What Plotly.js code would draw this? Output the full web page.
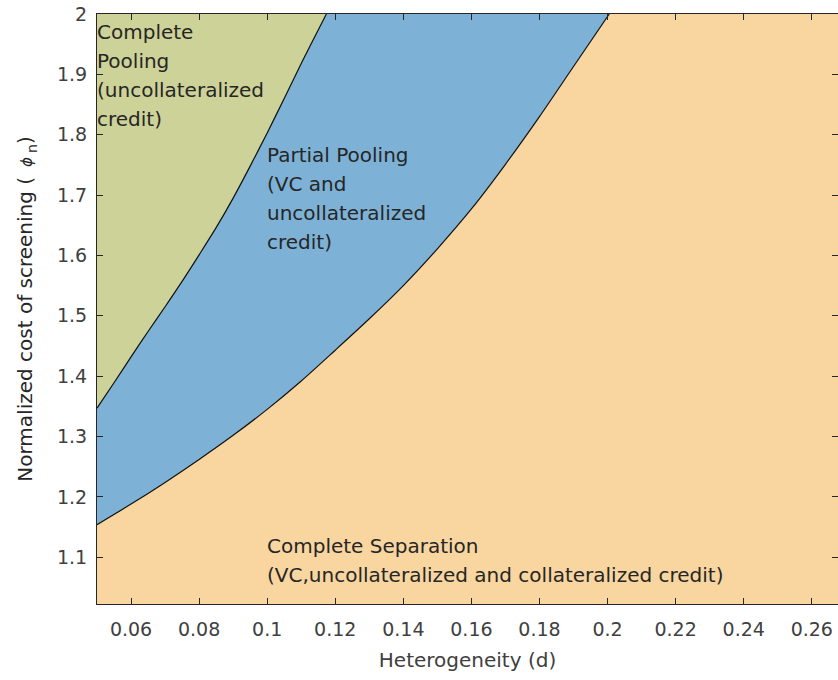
<!DOCTYPE html>
<html>
<head>
<meta charset="utf-8">
<script src="https://cdn.plot.ly/plotly-3.0.1.min.js"></script>
<style>
  html, body { margin: 0; padding: 0; background: #ffffff; }
  #chart { width: 838px; height: 680px; }
</style>
</head>
<body>
<div id="chart"></div>
<script>
// Boundary between Partial Pooling and Complete Separation
const lowerX = [0.05, 0.06, 0.07, 0.08, 0.09, 0.10, 0.11, 0.12, 0.13, 0.14, 0.15, 0.16, 0.17, 0.18, 0.19, 0.2005];
const lowerY = [1.154, 1.188, 1.224, 1.262, 1.302, 1.345, 1.392, 1.443, 1.495, 1.550, 1.611, 1.677, 1.751, 1.830, 1.913, 2.0];

// Boundary between Complete Pooling and Partial Pooling
const upperX = [0.05, 0.055, 0.06, 0.065, 0.07, 0.075, 0.08, 0.085, 0.09, 0.095, 0.10, 0.105, 0.11, 0.1174];
const upperY = [1.347, 1.389, 1.432, 1.474, 1.515, 1.557, 1.601, 1.646, 1.695, 1.748, 1.803, 1.860, 1.918, 2.0];

// Axis ticks
const xTickVals = [0.06, 0.08, 0.10, 0.12, 0.14, 0.16, 0.18, 0.20, 0.22, 0.24, 0.26];
const xTickText = ["0.06", "0.08", "0.1", "0.12", "0.14", "0.16", "0.18", "0.2", "0.22", "0.24", "0.26"];
const yTickVals = [1.1, 1.2, 1.3, 1.4, 1.5, 1.6, 1.7, 1.8, 1.9, 2.0];
const yTickText = ["1.1", "1.2", "1.3", "1.4", "1.5", "1.6", "1.7", "1.8", "1.9", "2"];

// Region labels (one entry per text line)
const poolingLines = ["Complete", "Pooling", "(uncollateralized", "credit)"];
const partialLines = ["Partial Pooling", "(VC and", "uncollateralized", "credit)"];
const separationLines = ["Complete Separation", "(VC,uncollateralized and collateralized credit)"];

const xRange = [0.05, 0.2677];
const yRange = [1.0225, 2.0];

const green = "#cdd298";
const blue = "#7db2d6";
const orange = "#f9d5a0";
const ink = "#262626";

// top edge of the axes under each boundary, used as the fill partner
const lowerTop = lowerX.map(function () { return yRange[1]; });
const upperTop = upperX.map(function () { return yRange[1]; });

const traces = [
  { x: lowerX, y: lowerTop, type: "scatter", mode: "lines",
    line: { width: 0, color: blue }, hoverinfo: "skip", showlegend: false },
  { x: lowerX, y: lowerY, type: "scatter", mode: "lines", fill: "tonexty",
    fillcolor: blue, line: { width: 1.2, color: "#111111", shape: "spline", smoothing: 0.8 },
    hoverinfo: "skip", showlegend: false },
  { x: upperX, y: upperTop, type: "scatter", mode: "lines",
    line: { width: 0, color: green }, hoverinfo: "skip", showlegend: false },
  { x: upperX, y: upperY, type: "scatter", mode: "lines", fill: "tonexty",
    fillcolor: green, line: { width: 1.2, color: "#111111", shape: "spline", smoothing: 0.8 },
    hoverinfo: "skip", showlegend: false }
];

const font = "DejaVu Sans, Verdana, sans-serif";
const annotations = [];
function addLines(lines, x0, yTop, step) {
  lines.forEach(function (t, i) {
    annotations.push({
      x: x0, y: yTop - i * step, xref: "x", yref: "y",
      text: t, showarrow: false, xanchor: "left", yanchor: "middle",
      align: "left", borderpad: 0, borderwidth: 0,
      font: { family: font, size: 20, color: ink }
    });
  });
}
const stepY = 29 / 603;
addLines(poolingLines, 0.05, 1.9701, stepY);
addLines(partialLines, 0.10, 1.766, stepY);
addLines(separationLines, 0.10, 1.1194, stepY);

const layout = {
  width: 838, height: 680,
  margin: { l: 97, r: 0, t: 14, b: 76, pad: 0 },
  paper_bgcolor: "#ffffff",
  plot_bgcolor: orange,
  font: { family: font, color: ink },
  xaxis: {
    range: xRange, tickmode: "array", tickvals: xTickVals, ticktext: xTickText,
    ticks: "inside", ticklen: 6, tickwidth: 1, tickcolor: ink,
    showline: true, linecolor: ink, linewidth: 1, mirror: "ticks",
    showgrid: false, zeroline: false, ticklabelstandoff: 8,
    tickfont: { family: font, size: 19, color: "#404040" },
    title: { text: "Heterogeneity (d)", font: { family: font, size: 20, color: "#404040" }, standoff: 14 }
  },
  yaxis: {
    range: yRange, tickmode: "array", tickvals: yTickVals, ticktext: yTickText,
    ticks: "inside", ticklen: 6, tickwidth: 1, tickcolor: ink,
    showline: true, linecolor: ink, linewidth: 1, mirror: "ticks",
    showgrid: false, zeroline: false, ticklabelstandoff: 5,
    tickfont: { family: font, size: 19, color: "#404040" },
    title: { text: "Normalized cost of screening (\u2002<span style=\"font-size:15px\"><i>ϕ</i></span>\u2009<sub>n</sub>)",
             font: { family: font, size: 20, color: ink }, standoff: 18 }
  },
  annotations: annotations,
  showlegend: false
};

Plotly.newPlot("chart", traces, layout, { staticPlot: true, displayModeBar: false });
</script>
</body>
</html>
